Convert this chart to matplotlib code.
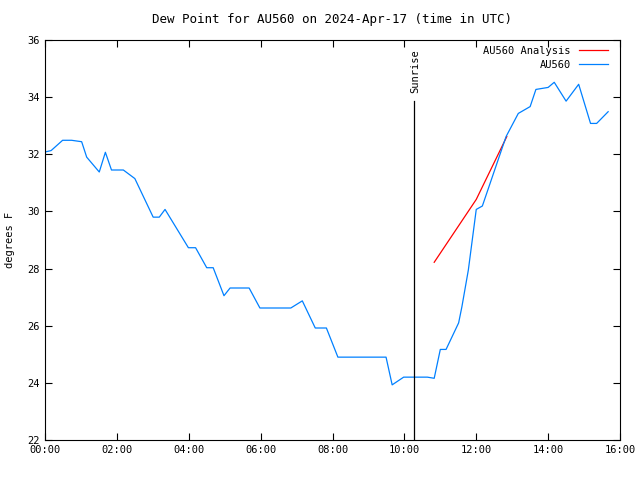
import matplotlib
matplotlib.use("Agg")
import matplotlib.pyplot as plt

# observed dew point (hours UTC, deg F)
obs_hours = [0.0, 0.17, 0.49, 0.74, 1.02, 1.16, 1.51, 1.68, 1.85, 2.18, 2.5, 3.01, 3.18,
             3.34, 3.99, 4.19, 4.5, 4.68, 4.98, 5.15, 5.68, 5.98, 6.84, 7.16, 7.52, 7.83,
             8.15, 9.49, 9.66, 9.98, 10.64, 10.83, 11.0, 11.16, 11.51, 11.6, 11.78, 12.0,
             12.17, 12.83, 13.17, 13.5, 13.66, 14.0, 14.17, 14.5, 14.85, 15.18, 15.35, 15.67]
obs_dewpt = [32.08, 32.13, 32.49, 32.49, 32.44, 31.9, 31.38, 32.07, 31.45, 31.45, 31.15, 29.8,
             29.8, 30.07, 28.73, 28.73, 28.03, 28.03, 27.05, 27.32, 27.32, 26.62, 26.62, 26.87,
             25.92, 25.92, 24.9, 24.9, 23.93, 24.2, 24.2, 24.16, 25.17, 25.17, 26.1, 26.66,
             27.95, 30.07, 30.19, 32.62, 33.43, 33.67, 34.27, 34.34, 34.52, 33.86, 34.45,
             33.08, 33.08, 33.49]

# analysis series
ana_hours = [10.83, 12.0, 12.85]
ana_dewpt = [28.22, 30.42, 32.62]

sunrise = 10.27
xticks = list(range(0, 17, 2))
xlabels = ["%02d:00" % h for h in xticks]

plt.rcParams["font.family"] = "DejaVu Sans Mono"
plt.rcParams["font.size"] = 7.5

fig = plt.figure(figsize=(6.4, 4.8), dpi=100)
ax = fig.add_axes([45 / 640, 40 / 480, 575 / 640, 400 / 480])

ax.plot(ana_hours, ana_dewpt, color="#ff0000", lw=0.9, label="AU560 Analysis")
ax.plot(obs_hours, obs_dewpt, color="#0080ff", lw=0.9, label="AU560")

ax.axvline(sunrise, ymin=0, ymax=(33.88 - 22) / 14, color="black", lw=0.9)
ax.text(sunrise + 0.02, 34.15, "Sunrise", rotation=90, ha="center", va="bottom")

ax.set_xlim(0, 16)
ax.set_ylim(22, 36)
ax.set_xticks(xticks)
ax.set_xticklabels(xlabels)
ax.set_yticks(range(22, 37, 2))
ax.tick_params(direction="in", top=True, right=True, length=5, width=0.8)
ax.set_ylabel("degrees F", labelpad=9)
ax.set_title("Dew Point for AU560 on 2024-Apr-17 (time in UTC)", pad=12)

ax.legend(loc="upper right", bbox_to_anchor=(0.983, 0.99), frameon=False,
          markerfirst=False, handlelength=2.8, borderaxespad=0, borderpad=0.2,
          labelspacing=0.35, handletextpad=0.8)

fig.savefig("out.png", dpi=100)
